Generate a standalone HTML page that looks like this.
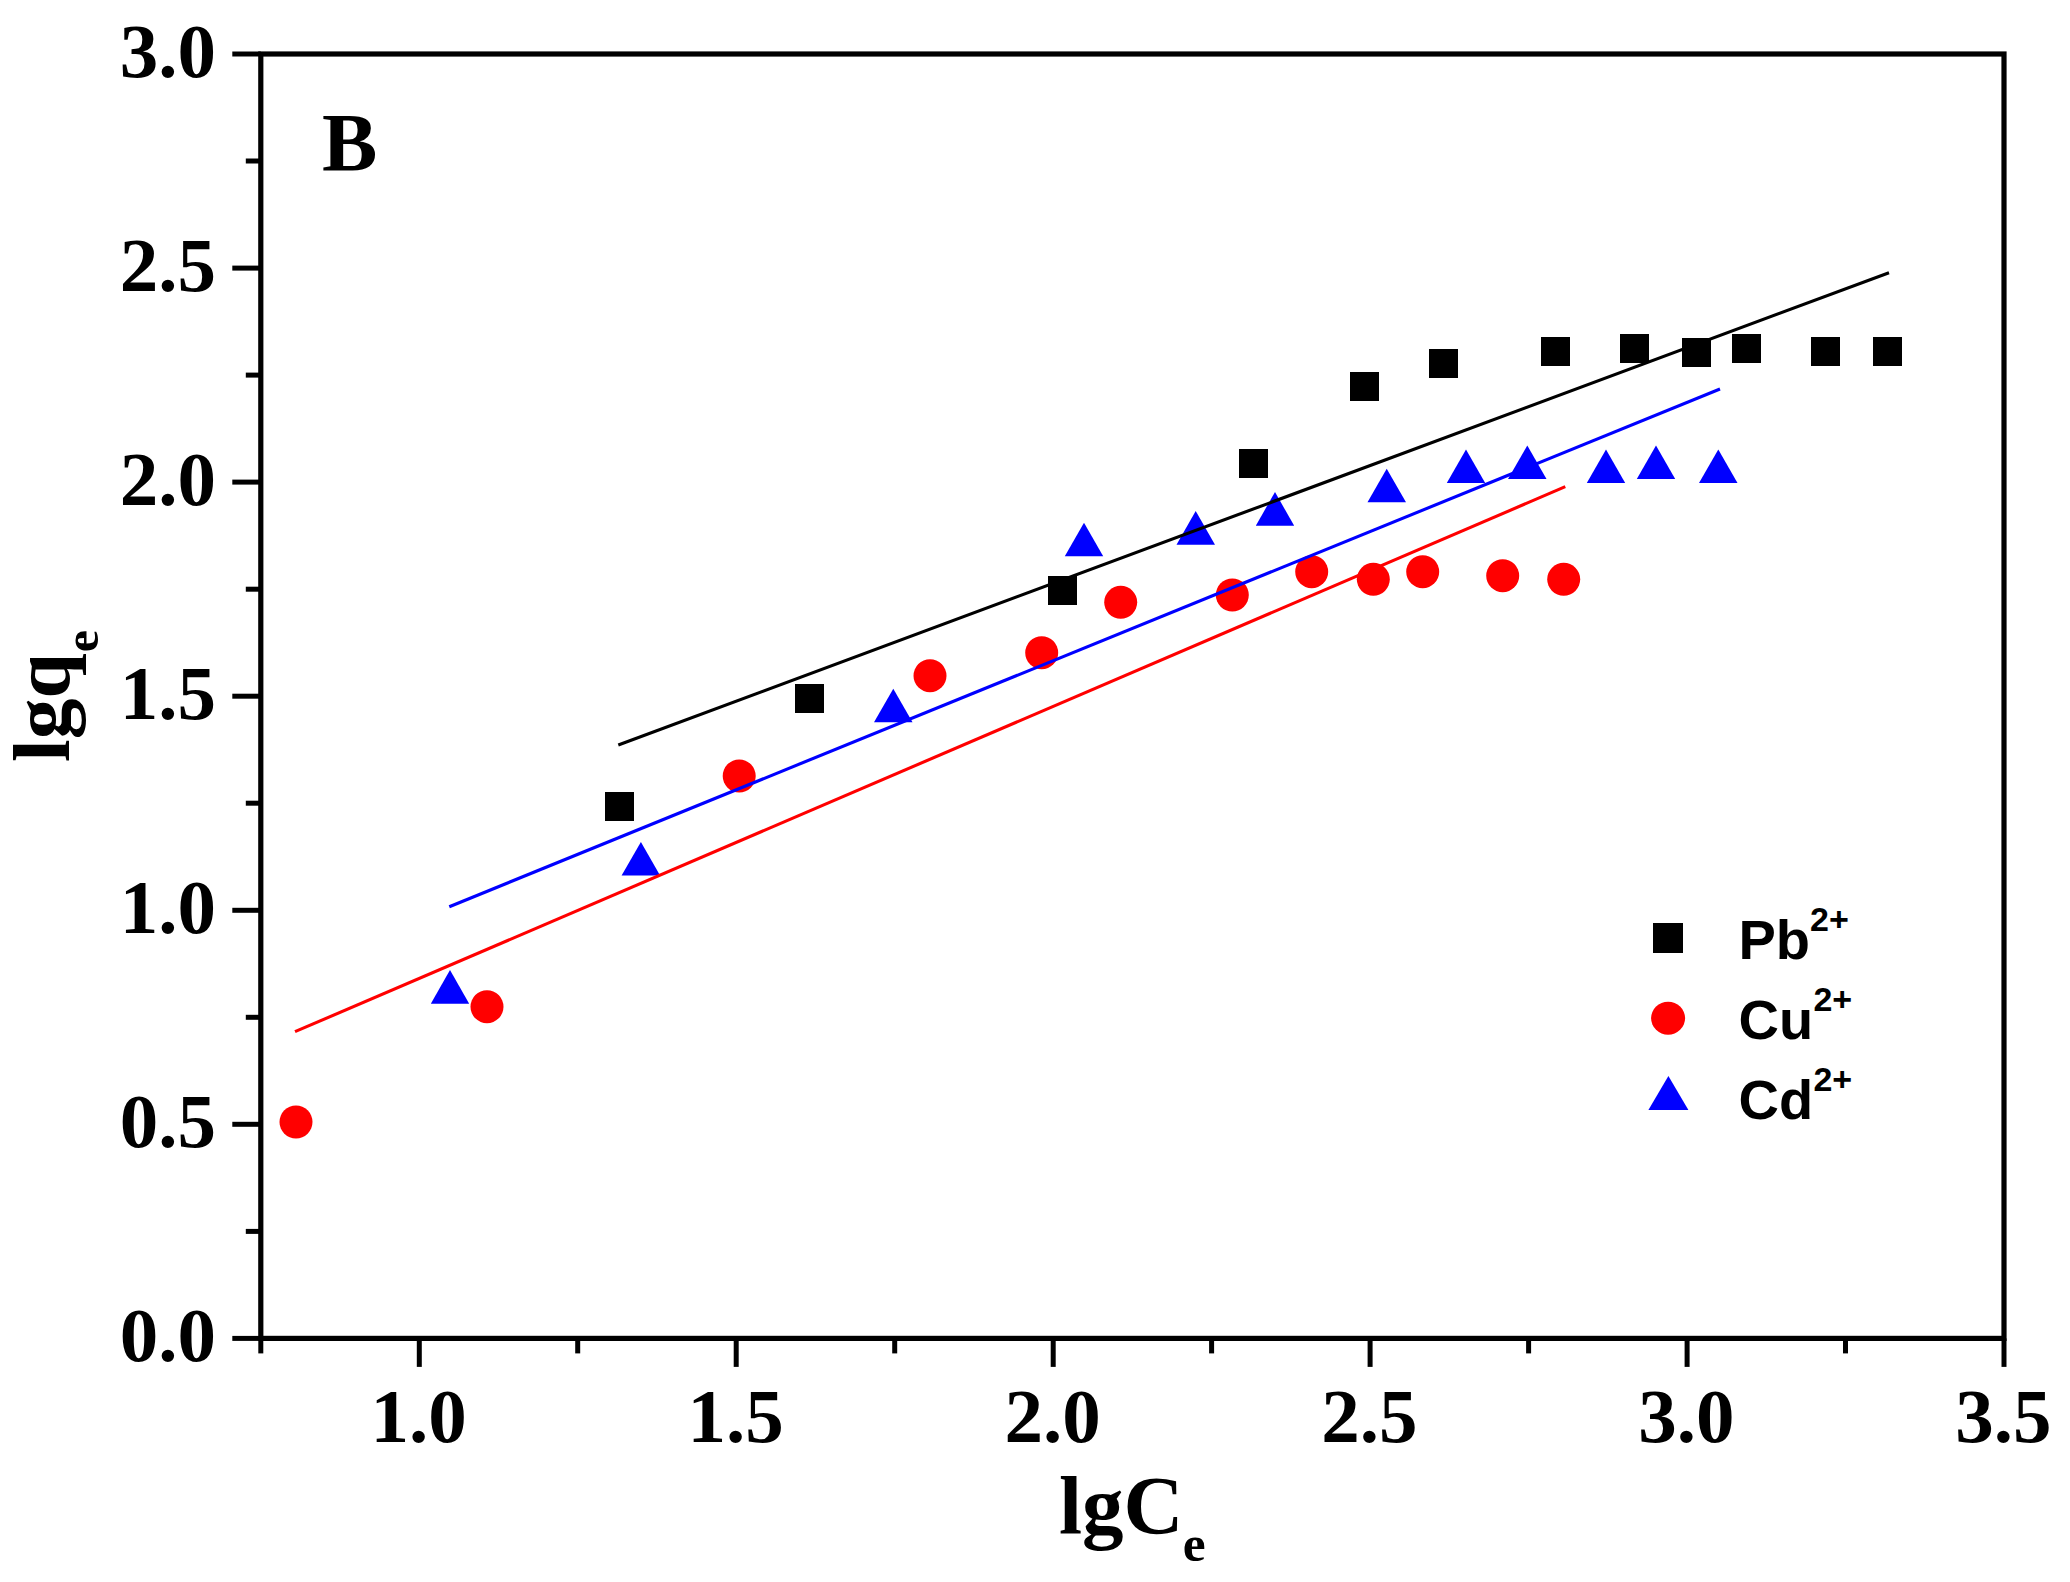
<!DOCTYPE html>
<html lang="en">
<head>
<meta charset="utf-8">
<title>Freundlich isotherm plot B</title>
<style>
html,body{margin:0;padding:0;background:#fff;}
body{width:2070px;height:1582px;overflow:hidden;}
svg{display:block;}
.tk{font-family:"Liberation Serif","Times New Roman",serif;font-weight:bold;font-size:77px;fill:#000;}
.ax{font-family:"Liberation Serif","Times New Roman",serif;font-weight:bold;font-size:81.5px;fill:#000;}
.sub{font-size:50px;}
.pl{font-family:"Liberation Serif","Times New Roman",serif;font-weight:bold;font-size:83px;fill:#000;}
.lg{font-family:"Liberation Sans",Arial,sans-serif;font-weight:bold;font-size:56px;fill:#000;}
.sup{font-size:34px;}
</style>
</head>
<body>
<svg width="2070" height="1582" viewBox="0 0 2070 1582">
<rect x="0" y="0" width="2070" height="1582" fill="#ffffff"/>
<g fill="#000000" shape-rendering="crispEdges">
<rect x="604.8" y="792.0" width="29.0" height="29.0"/>
<rect x="795.3" y="684.3" width="29.0" height="29.0"/>
<rect x="1048.0" y="576.3" width="29.0" height="29.0"/>
<rect x="1238.8" y="449.3" width="29.0" height="29.0"/>
<rect x="1350.2" y="372.0" width="29.0" height="29.0"/>
<rect x="1429.3" y="348.8" width="29.0" height="29.0"/>
<rect x="1541.0" y="337.2" width="29.0" height="29.0"/>
<rect x="1620.3" y="333.7" width="29.0" height="29.0"/>
<rect x="1681.8" y="337.7" width="29.0" height="29.0"/>
<rect x="1732.2" y="333.7" width="29.0" height="29.0"/>
<rect x="1811.0" y="337.2" width="29.0" height="29.0"/>
<rect x="1873.3" y="337.2" width="29.0" height="29.0"/>
</g>
<g fill="#ff0000">
<circle cx="296.0" cy="1122.0" r="16.5"/>
<circle cx="487.0" cy="1006.7" r="16.5"/>
<circle cx="739.2" cy="776.0" r="16.5"/>
<circle cx="930.0" cy="675.7" r="16.5"/>
<circle cx="1041.7" cy="652.7" r="16.5"/>
<circle cx="1120.7" cy="602.3" r="16.5"/>
<circle cx="1232.3" cy="595.0" r="16.5"/>
<circle cx="1311.7" cy="571.7" r="16.5"/>
<circle cx="1373.3" cy="579.3" r="16.5"/>
<circle cx="1422.7" cy="571.7" r="16.5"/>
<circle cx="1502.7" cy="575.7" r="16.5"/>
<circle cx="1563.7" cy="579.3" r="16.5"/>
</g>
<g fill="#0000ff">
<polygon points="450.0,970.1 430.8,1003.7 469.2,1003.7"/>
<polygon points="640.9,841.9 621.6,875.5 660.1,875.5"/>
<polygon points="893.3,688.7 874.0,722.3 912.5,722.3"/>
<polygon points="1084.0,522.7 1064.8,556.3 1103.2,556.3"/>
<polygon points="1195.7,511.1 1176.5,544.7 1215.0,544.7"/>
<polygon points="1275.0,492.1 1255.8,525.7 1294.2,525.7"/>
<polygon points="1386.7,468.7 1367.5,502.3 1406.0,502.3"/>
<polygon points="1466.0,449.4 1446.8,483.0 1485.2,483.0"/>
<polygon points="1527.3,445.4 1508.0,479.0 1546.5,479.0"/>
<polygon points="1606.0,449.4 1586.8,483.0 1625.2,483.0"/>
<polygon points="1656.0,445.4 1636.8,479.0 1675.2,479.0"/>
<polygon points="1718.3,449.4 1699.0,483.0 1737.5,483.0"/>
</g>
<g fill="none" stroke-width="3.1" stroke-linecap="butt">
<line x1="618.3" y1="745.0" x2="1889.0" y2="272.7" stroke="#000000"/>
<line x1="295.0" y1="1031.7" x2="1565.3" y2="486.7" stroke="#ff0000"/>
<line x1="449.3" y1="906.7" x2="1720.0" y2="389.0" stroke="#0000ff"/>
</g>
<g stroke="#000000" stroke-width="5.2" fill="none" stroke-linecap="butt">
<rect x="260.8" y="54.0" width="1743.2" height="1284.4"/>
</g>
<g stroke="#000000" stroke-width="5" fill="none" stroke-linecap="butt">
<line x1="232.3" y1="1338.4" x2="260.8" y2="1338.4"/>
<line x1="245.8" y1="1231.4" x2="260.8" y2="1231.4"/>
<line x1="232.3" y1="1124.3" x2="260.8" y2="1124.3"/>
<line x1="245.8" y1="1017.3" x2="260.8" y2="1017.3"/>
<line x1="232.3" y1="910.3" x2="260.8" y2="910.3"/>
<line x1="245.8" y1="803.2" x2="260.8" y2="803.2"/>
<line x1="232.3" y1="696.2" x2="260.8" y2="696.2"/>
<line x1="245.8" y1="589.2" x2="260.8" y2="589.2"/>
<line x1="232.3" y1="482.1" x2="260.8" y2="482.1"/>
<line x1="245.8" y1="375.1" x2="260.8" y2="375.1"/>
<line x1="232.3" y1="268.1" x2="260.8" y2="268.1"/>
<line x1="245.8" y1="161.0" x2="260.8" y2="161.0"/>
<line x1="232.3" y1="54.0" x2="260.8" y2="54.0"/>
<line x1="260.8" y1="1338.4" x2="260.8" y2="1353.4"/>
<line x1="419.3" y1="1338.4" x2="419.3" y2="1366.9"/>
<line x1="577.7" y1="1338.4" x2="577.7" y2="1353.4"/>
<line x1="736.2" y1="1338.4" x2="736.2" y2="1366.9"/>
<line x1="894.7" y1="1338.4" x2="894.7" y2="1353.4"/>
<line x1="1053.2" y1="1338.4" x2="1053.2" y2="1366.9"/>
<line x1="1211.6" y1="1338.4" x2="1211.6" y2="1353.4"/>
<line x1="1370.1" y1="1338.4" x2="1370.1" y2="1366.9"/>
<line x1="1528.6" y1="1338.4" x2="1528.6" y2="1353.4"/>
<line x1="1687.1" y1="1338.4" x2="1687.1" y2="1366.9"/>
<line x1="1845.5" y1="1338.4" x2="1845.5" y2="1353.4"/>
<line x1="2004.0" y1="1338.4" x2="2004.0" y2="1366.9"/>
</g>
<g class="tk" text-anchor="end">
<text x="216" y="1361.4">0.0</text>
<text x="216" y="1147.3">0.5</text>
<text x="216" y="933.3">1.0</text>
<text x="216" y="719.2">1.5</text>
<text x="216" y="505.1">2.0</text>
<text x="216" y="291.1">2.5</text>
<text x="216" y="77.0">3.0</text>
</g>
<g class="tk" text-anchor="middle">
<text x="418.6" y="1442">1.0</text>
<text x="735.5" y="1442">1.5</text>
<text x="1052.5" y="1442">2.0</text>
<text x="1369.4" y="1442">2.5</text>
<text x="1686.4" y="1442">3.0</text>
<text x="2003.3" y="1442">3.5</text>
</g>
<text class="ax" x="1059" y="1532.8" style="font-size:83px">lgC<tspan class="sub" dy="28.6" dx="-0.8" style="font-size:51.5px">e</tspan></text>
<text class="ax" transform="translate(69.4,762) rotate(-90) scale(1,0.975)">lgq<tspan class="sub" dy="29.6" dx="1">e</tspan></text>
<text class="pl" x="322" y="169.6">B</text>
<rect x="1653" y="923" width="30" height="30" fill="#000000" shape-rendering="crispEdges"/>
<ellipse cx="1668.1" cy="1018.2" rx="17" ry="16.5" fill="#ff0000"/>
<polygon points="1668.4,1076 1648.4,1110 1688.4,1110" fill="#0000ff"/>
<text class="lg" x="1738.5" y="959.2">Pb<tspan class="sup" dy="-27.8">2+</tspan></text>
<text class="lg" x="1738.5" y="1038.9">Cu<tspan class="sup" dy="-27.8" dx="0.3">2+</tspan></text>
<text class="lg" x="1738.5" y="1118.6">Cd<tspan class="sup" dy="-27.8" dx="0.3">2+</tspan></text>
</svg>
</body>
</html>
